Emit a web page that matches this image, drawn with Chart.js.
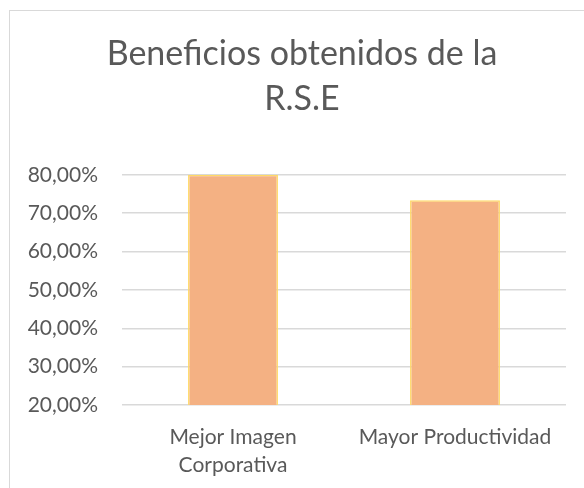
<!DOCTYPE html>
<html>
<head>
<meta charset="utf-8">
<script src="https://cdn.jsdelivr.net/npm/chart.js@4"></script>
<style>
    html, body { margin: 0; padding: 0; background: #fff; }
    #wrap { position: relative; width: 584px; height: 488px; overflow: hidden; }
    #frame { position: absolute; left: 9px; top: 10px; width: 620px; height: 520px; border: 1px solid #d9d9d9; box-sizing: border-box; }
    #chart { position: absolute; left: 0; top: 0; }
</style>
</head>
<body>
<div id="wrap">
    <div id="frame"></div>
    <canvas id="chart" width="584" height="488"></canvas>
</div>
<script>
// data
const categories = [["Mejor Imagen", "Corporativa"], "Mayor Productividad"];
const values = [0.80, 0.7333];
const yMin = 0.2;
const yMax = 0.8;
const yStep = 0.1;

const textColor = "#595959";
const fontFamily = "Lato, 'Open Sans', sans-serif";

function pct(v) {
    return (v * 100).toFixed(2).replace(".", ",") + "%";
}

// title in the reference sits a bit right of the plot centre
const shiftTitle = {
    id: "shiftTitle",
    afterLayout: function (chart) {
        const t = chart.titleBlock;
        if (t) {
            t.left += 19;
            t.right += 19;
        }
    },
};

new Chart(document.getElementById("chart"), {
    type: "bar",
    data: {
        labels: categories,
        datasets: [
            {
                label: "Beneficios",
                data: values,
                backgroundColor: "#F4B183",
                borderColor: "#FFD966",
                borderWidth: 1.5,
                categoryPercentage: 1,
                barPercentage: 0.405,
            },
        ],
    },
    plugins: [shiftTitle],
    options: {
        responsive: false,
        animation: false,
        layout: {
            padding: { left: 0, right: 18, top: 0, bottom: 0 },
        },
        plugins: {
            legend: { display: false },
            tooltip: { enabled: false },
            title: {
                display: true,
                text: ["Beneficios obtenidos de la", "R.S.E"],
                color: textColor,
                font: { family: fontFamily, size: 34, weight: "normal", lineHeight: 1.32 },
                padding: { top: 32, bottom: 53 },
            },
        },
        scales: {
            x: {
                afterFit: function (scale) {
                    scale.height = 83;
                },
                grid: { display: false, drawTicks: false },
                border: { display: false },
                ticks: {
                    color: textColor,
                    font: { family: fontFamily, size: 21, lineHeight: 1.35 },
                    maxRotation: 0,
                    padding: 18,
                },
            },
            y: {
                min: yMin,
                max: yMax,
                afterFit: function (scale) {
                    scale.width = 122;
                },
                grid: { color: "#D9D9D9", lineWidth: 1.5, drawTicks: false },
                border: { display: false },
                ticks: {
                    stepSize: yStep,
                    color: textColor,
                    font: { family: fontFamily, size: 21 },
                    padding: 24,
                    callback: function (v) {
                        return pct(v);
                    },
                },
            },
        },
    },
});
</script>
</body>
</html>
